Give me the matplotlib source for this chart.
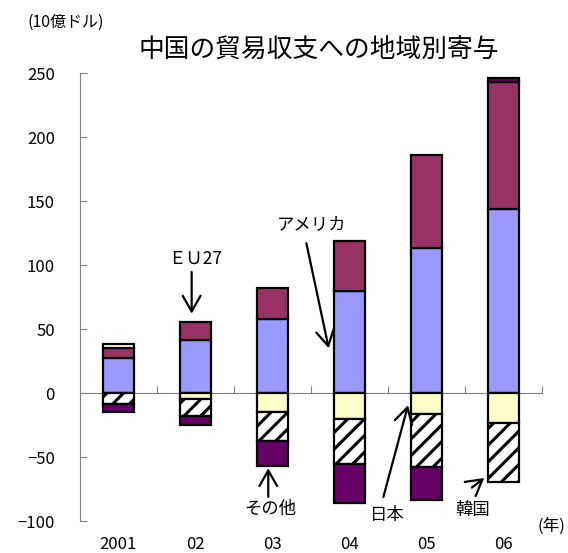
import numpy as np
import matplotlib
matplotlib.use('Agg')
import matplotlib.pyplot as plt

plt.rcParams['font.family'] = ['Noto Sans CJK JP', 'DejaVu Sans']
plt.rcParams['hatch.linewidth'] = 2.2

# data (10億ドル)
years = ['2001', '02', '03', '04', '05', '06']
america = [27.7, 41.7, 58.1, 79.5, 113.6, 144.0]
eu27 = [7.8, 13.8, 24.2, 39.0, 72.1, 99.0]
japan = [3.1, -4.4, -14.8, -20.5, -16.1, -23.6]
korea = [-8.8, -13.8, -22.9, -35.0, -41.7, -45.7]
other = [-6.2, -6.5, -19.6, -30.7, -25.8, 3.4]

series = [
    (america, '#9999FF', None),
    (eu27, '#993366', None),
    (japan, '#FFFFCC', None),
    (korea, 'white', '//'),
    (other, '#660066', None),
]

fig = plt.figure(figsize=(5.68, 5.53), dpi=100)
ax = fig.add_axes([80/568, 1-521/553, 462/568, 448/553])

x = np.arange(len(years))
pos_base = np.zeros(len(years))
neg_base = np.zeros(len(years))
for vals, col, hatch in series:
    v = np.array(vals)
    bottom = np.where(v >= 0, pos_base, neg_base)
    ax.bar(x, v, 0.4, bottom=bottom, color=col, edgecolor='black',
           linewidth=1.6, hatch=hatch, zorder=3)
    pos_base = pos_base + np.where(v >= 0, v, 0)
    neg_base = neg_base + np.where(v < 0, v, 0)

ax.set_xlim(-0.5, len(years) - 0.5)
ax.set_ylim(-100, 250)
ax.set_yticks(range(-100, 251, 50))
ax.tick_params(axis='y', direction='in', length=5, color='#808080',
               labelsize=12, pad=18)

# zero line as x axis, ticks between categories
ax.spines['top'].set_visible(False)
ax.spines['right'].set_visible(False)
ax.spines['bottom'].set_position(('data', 0))
ax.spines['bottom'].set_color('#808080')
ax.spines['left'].set_color('#808080')
ax.set_xticks(list(x + 0.5))
ax.set_xticklabels([])
ax.tick_params(axis='x', which='major', direction='in', length=5, color='#808080')
ax.set_xticks(x, minor=True)
ax.set_xticklabels(years, minor=True)
ax.tick_params(axis='x', which='minor', length=0, labelsize=12, pad=103)

# titles
fig.text(66/568, 1-22/553, '(10億ドル)', ha='center', va='center', fontsize=11.5)
fig.text(319/568, 1-51/553, '中国の貿易収支への地域別寄与', ha='center', va='center',
         fontsize=18.5)
fig.text(551/568, 1-526/553, '(年)', ha='center', va='center', fontsize=12)

arrow = dict(arrowstyle='->,head_length=0.7,head_width=0.4', color='black',
             lw=1.6, shrinkA=0, shrinkB=0, mutation_scale=16)

ax.text(0.99, 105, 'ＥＵ27', ha='center', va='center', fontsize=12.5)
ax.annotate('', xy=(0.95, 62), xytext=(0.95, 94.5), arrowprops=arrow)

ax.text(2.51, 132, 'アメリカ', ha='center', va='center', fontsize=12.5)
ax.annotate('', xy=(2.73, 35), xytext=(2.44, 117), arrowprops=arrow)

ax.text(1.97, -90.5, 'その他', ha='center', va='center', fontsize=12.5)
ax.annotate('', xy=(1.945, -58.8), xytext=(1.945, -81.2), arrowprops=arrow)

ax.text(3.49, -95.2, '日本', ha='center', va='center', fontsize=12.5)
ax.annotate('', xy=(3.76, -9.6), xytext=(3.44, -81.2), arrowprops=arrow)

ax.text(4.6, -91.2, '韓国', ha='center', va='center', fontsize=12.5)
ax.annotate('', xy=(4.75, -66.4), xytext=(4.59, -73.9), arrowprops=arrow)

fig.savefig('out.png', dpi=100)
